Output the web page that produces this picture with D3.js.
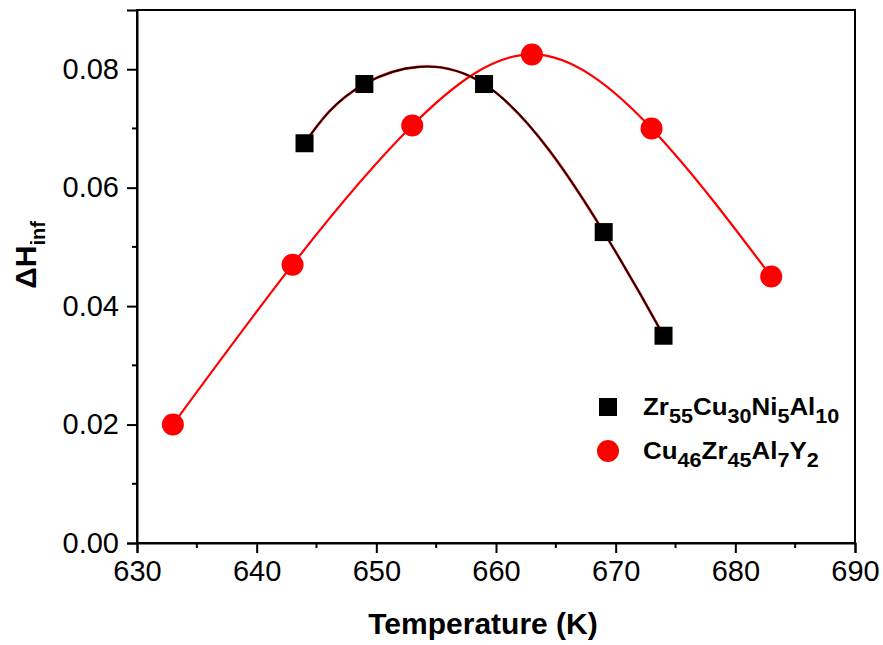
<!DOCTYPE html>
<html>
<head>
<meta charset="utf-8">
<script src="https://cdn.jsdelivr.net/npm/d3@7"></script>
<style>
  body { margin: 0; background: #fff; }
  svg { display: block; font-family: "Liberation Sans", Arial, sans-serif; }
</style>
</head>
<body>
<svg id="chart" width="883" height="645"></svg>
<script>
// ---- data ----
const zrTemps = [644, 649, 659, 669, 674];
const zrValues = [0.0675, 0.0775, 0.0775, 0.0525, 0.035];
const cuTemps = [633, 643, 653, 663, 673, 683];
const cuValues = [0.020, 0.047, 0.0705, 0.0825, 0.070, 0.045];
const xTicks = [630, 640, 650, 660, 670, 680, 690];
const yTicks = [0.00, 0.02, 0.04, 0.06, 0.08];
const xTitle = "Temperature (K)";
const legendZr = [["Zr", false], ["55", true], ["Cu", false], ["30", true], ["Ni", false], ["5", true], ["Al", false], ["10", true]];
const legendCu = [["Cu", false], ["46", true], ["Zr", false], ["45", true], ["Al", false], ["7", true], ["Y", false], ["2", true]];

const svg = d3.select("#chart");
const m = { left: 137, top: 10, right: 28, bottom: 102 };
const W = 883 - m.left - m.right, H = 645 - m.top - m.bottom;
const g = svg.append("g").attr("transform", `translate(${m.left},${m.top})`);

const x = d3.scaleLinear().domain([630, 690]).range([0, W]);
const y = d3.scaleLinear().domain([0, 0.09]).range([H, 0]);

const xMinor = d3.range(635, 690, 10);
const yMinor = d3.range(0.01, 0.09, 0.02);

// frame
g.append("rect").attr("x", 0).attr("y", 0).attr("width", W).attr("height", H)
  .attr("fill", "none").attr("stroke", "#000").attr("stroke-width", 2);

// x axis
const xAxis = g.append("g").attr("transform", `translate(0,${H})`)
  .call(d3.axisBottom(x).tickValues(xTicks).tickFormat(d3.format("d")).tickSize(10).tickPadding(7));
xAxis.append("g").selectAll("line").data(xMinor).join("line")
  .attr("x1", d => x(d)).attr("x2", d => x(d)).attr("y1", 0).attr("y2", 5)
  .attr("stroke", "#000").attr("stroke-width", 2);

// y axis
const yAxis = g.append("g")
  .call(d3.axisLeft(y).tickValues(yTicks).tickFormat(d3.format(".2f")).tickSize(10).tickPadding(8));
yAxis.append("g").selectAll("line").data(yMinor).join("line")
  .attr("y1", d => y(d)).attr("y2", d => y(d)).attr("x1", 0).attr("x2", -5)
  .attr("stroke", "#000").attr("stroke-width", 2);

[xAxis, yAxis].forEach(a => {
  a.select(".domain").attr("stroke-width", 2);
  a.selectAll(".tick line").attr("stroke-width", 2);
  a.selectAll(".tick text").attr("font-size", 29).attr("fill", "#000")
    .attr("font-family", "Liberation Sans, Arial, sans-serif");
});

// axis titles
svg.append("text").attr("x", 483).attr("y", 634)
  .attr("text-anchor", "middle").attr("font-size", 30).attr("font-weight", "bold")
  .text(xTitle);

const yt = svg.append("text").attr("transform", "translate(36,255) rotate(-90)")
  .attr("text-anchor", "middle").attr("font-size", 30).attr("font-weight", "bold");
yt.append("tspan").text("\u0394H");
yt.append("tspan").attr("font-size", 20).attr("dy", 9).text("inf");

// fit curves
const zrData = zrTemps.map((t, i) => [t, zrValues[i]]);
const cuData = cuTemps.map((t, i) => [t, cuValues[i]]);
const line = d3.line().x(d => x(d[0])).y(d => y(d[1])).curve(d3.curveNatural);

g.append("path").attr("d", line(cuData)).attr("fill", "none")
  .attr("stroke", "#ff0000").attr("stroke-width", 2.2);
g.append("path").attr("d", line(zrData)).attr("fill", "none")
  .attr("stroke", "#ff0000").attr("stroke-width", 2.6);
g.append("path").attr("d", line(zrData)).attr("fill", "none")
  .attr("stroke", "#000").attr("stroke-width", 1.6);

// markers
const sq = 18;
g.selectAll("rect.zr").data(zrData).join("rect").attr("class", "zr")
  .attr("x", d => x(d[0]) - sq / 2).attr("y", d => y(d[1]) - sq / 2)
  .attr("width", sq).attr("height", sq).attr("fill", "#000");
g.selectAll("circle.cu").data(cuData).join("circle").attr("class", "cu")
  .attr("cx", d => x(d[0])).attr("cy", d => y(d[1])).attr("r", 11).attr("fill", "#ff0000");

// legend
const lg = svg.append("g");
lg.append("rect").attr("x", 599).attr("y", 398).attr("width", 18).attr("height", 18).attr("fill", "#000");
lg.append("circle").attr("cx", 608).attr("cy", 451).attr("r", 11).attr("fill", "#ff0000");
function legendText(parts, yy) {
  const t = lg.append("text").attr("transform", `translate(643,${yy}) scale(1.08,1)`)
    .attr("font-size", 24).attr("font-weight", "bold");
  let sub = false;
  parts.forEach(([s, isSub]) => {
    const ts = t.append("tspan").text(s);
    if (isSub && !sub) { ts.attr("dy", 8).attr("font-size", 20); sub = true; }
    else if (isSub) { ts.attr("font-size", 20); }
    else if (sub) { ts.attr("dy", -8); sub = false; }
  });
}
legendText(legendZr, 415);
legendText(legendCu, 459);
</script>
</body>
</html>
